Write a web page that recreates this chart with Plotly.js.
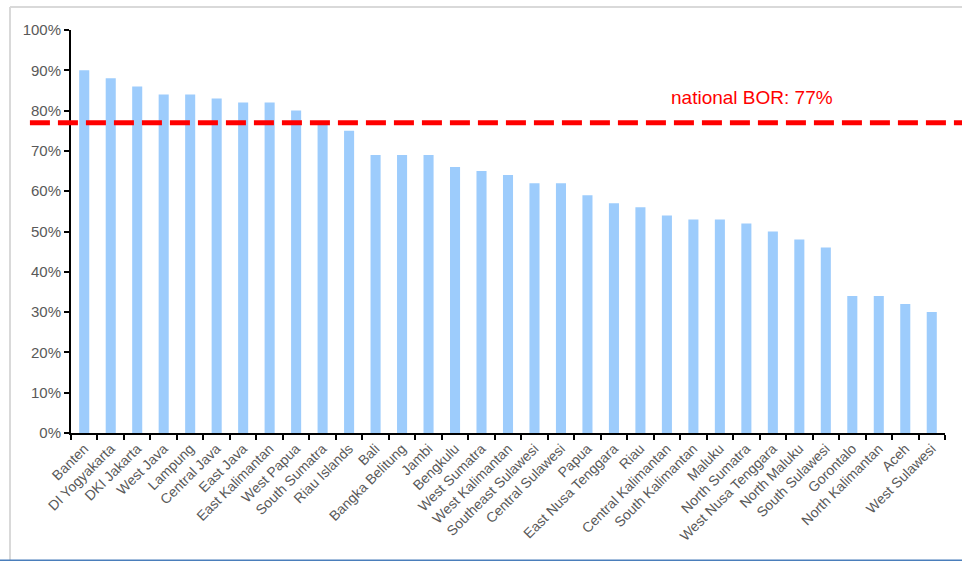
<!DOCTYPE html>
<html>
<head>
<meta charset="utf-8">
<script src="https://cdn.plot.ly/plotly-3.0.1.min.js"></script>
<style>
  html, body { margin: 0; padding: 0; background: #fff; }
  #chart { width: 962px; height: 561px; }
</style>
</head>
<body>
<div id="chart"></div>
<script>
// Bed occupancy rate by province (%)
const provinces = [
  "Banten", "DI Yogyakarta", "DKI Jakarta", "West Java", "Lampung", "Central Java",
  "East Java", "East Kalimantan", "West Papua", "South Sumatra", "Riau Islands", "Bali",
  "Bangka Belitung", "Jambi", "Bengkulu", "West Sumatra", "West Kalimantan",
  "Southeast Sulawesi", "Central Sulawesi", "Papua", "East Nusa Tenggara", "Riau",
  "Central Kalimantan", "South Kalimantan", "Maluku", "North Sumatra",
  "West Nusa Tenggara", "North Maluku", "South Sulawesi", "Gorontalo",
  "North Kalimantan", "Aceh", "West Sulawesi"
];
const bor = [
  90, 88, 86, 84, 84, 83,
  82, 82, 80, 77, 75, 69,
  69, 69, 66, 65, 64,
  62, 62, 59, 57, 56,
  54, 53, 53, 52,
  50, 48, 46, 34,
  34, 32, 30
];
const nationalBor = 77;
const yTicks = [0, 10, 20, 30, 40, 50, 60, 70, 80, 90, 100];
const yTickText = ["0%", "10%", "20%", "30%", "40%", "50%", "60%", "70%", "80%", "90%", "100%"];

const grey = "#595959";

const trace = {
  type: "bar",
  x: provinces,
  y: bor,
  marker: { color: "#9DCCFC" },
  hoverinfo: "x+y"
};

const layout = {
  width: 962,
  height: 561,
  margin: { l: 71, r: 17, t: 30, b: 128 },
  paper_bgcolor: "#ffffff",
  plot_bgcolor: "#ffffff",
  bargap: 0.62,
  showlegend: false,
  font: { family: "Liberation Sans, Arial, sans-serif", color: grey, size: 13 },
  xaxis: {
    type: "category",
    showline: true,
    linecolor: "#000000",
    linewidth: 2,
    ticks: "outside",
    tickson: "boundaries",
    ticklen: 5,
    tickwidth: 2,
    tickcolor: "#000000",
    tickangle: -45,
    tickfont: { size: 14, color: grey },
    showgrid: false,
    zeroline: false
  },
  yaxis: {
    range: [0, 100],
    tickmode: "array",
    tickvals: yTicks,
    ticktext: yTickText,
    showline: true,
    linecolor: "#000000",
    linewidth: 2,
    ticks: "outside",
    ticklen: 5,
    tickwidth: 2,
    tickcolor: "#000000",
    tickfont: { size: 15, color: grey },
    showgrid: false,
    zeroline: false
  },
  shapes: [
    // outer frame
    { type: "line", xref: "paper", yref: "paper", x0: -0.0698, x1: 1.1, y0: 1.0568, y1: 1.0568,
      line: { color: "#d9d9d9", width: 2 } },
    { type: "line", xref: "paper", yref: "paper", x0: -0.0698, x1: -0.0698, y0: 1.0568, y1: -0.316,
      line: { color: "#d9d9d9", width: 2 } },
    { type: "line", xref: "paper", yref: "paper", x0: -0.09, x1: 1.1, y0: -0.3165, y1: -0.3165,
      line: { color: "#4a7ebb", width: 2 } },
    // national average line
    { type: "line", xref: "paper", yref: "y", x0: -0.047, x1: 1.02, y0: nationalBor, y1: nationalBor,
      line: { color: "#ff0000", width: 5, dash: "20px,8px" } }
  ],
  annotations: [
    { xref: "paper", yref: "y", x: 0.779, y: nationalBor + 6.2, xanchor: "center", yanchor: "middle",
      text: "national BOR: " + nationalBor + "%", showarrow: false,
      font: { size: 19, color: "#ff0000" } }
  ]
};

Plotly.newPlot("chart", [trace], layout, { displayModeBar: false, staticPlot: true });
</script>
</body>
</html>
